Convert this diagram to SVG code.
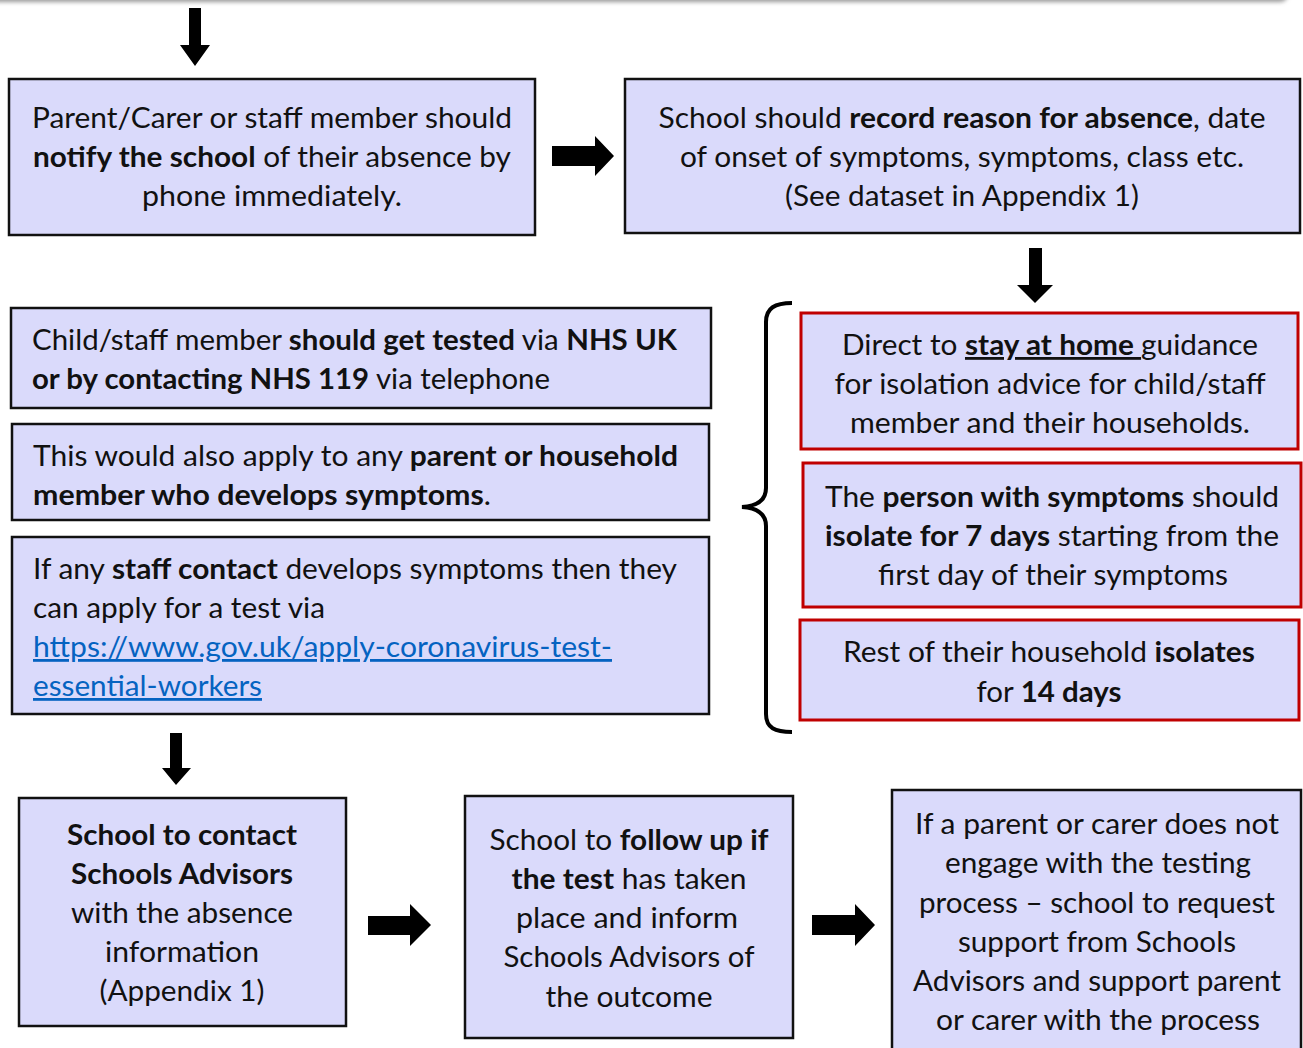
<svg xmlns="http://www.w3.org/2000/svg" width="1303" height="1048" viewBox="0 0 1303 1048">
<defs>
<filter id="blur" x="-5%" y="-100%" width="110%" height="300%"><feGaussianBlur stdDeviation="2"/></filter>
<style>
.box{fill:#dadafb;stroke:#111;stroke-width:2.5}
.red{fill:#dadafb;stroke:#c00000;stroke-width:3}
.t{font-family:Lato,"Open Sans","Liberation Sans",sans-serif;font-size:28px;fill:#111}
.c{text-anchor:middle}
.b{font-weight:bold}
.u{text-decoration:underline}
.link{fill:#0563c1;text-decoration:underline}
.arr{fill:#000}
.brace{fill:none;stroke:#000;stroke-width:4}
</style>
</defs>
<rect x="-20" y="-20" width="1308" height="22" rx="8" fill="#9a9a9a" filter="url(#blur)"/>
<rect x="-20" y="-20" width="1306" height="20" rx="6" fill="#fff"/>

<g id="connectors">
<polygon class="arr" points="189,8 201,8 201,45 210,45 195,66 180,45 189,45"/>
<polygon class="arr" points="552,146 595,146 595,136 614,156 595,176 595,166 552,166"/>
<polygon class="arr" points="1029,248 1042,248 1042,285 1053,285 1035,303 1017,285 1029,285"/>
<polygon class="arr" points="170,733 182,733 182,768 191,768 176,785 162,768 170,768"/>
<polygon class="arr" points="368,916 410,916 410,904 431,925 410,946 410,935 368,935"/>
<polygon class="arr" points="812,915 855,915 855,904 875,925 855,946 855,935 812,935"/>
<path class="brace" d="M792,303 C775,303 766,308 766,322 L766,488 C766,500 758,506 742,507 C758,508 766,514 766,526 L766,714 C766,728 775,732 792,732"/>
</g>

<g id="n1">
<rect class="box" x="9" y="79" width="526" height="156"/>
<text class="t c" x="272" y="128" textLength="480" lengthAdjust="spacingAndGlyphs">Parent/Carer or staff member should</text>
<text class="t c" x="272" y="167" textLength="478" lengthAdjust="spacingAndGlyphs"><tspan class="b">notify the school</tspan> of their absence by</text>
<text class="t c" x="272" y="206" textLength="260" lengthAdjust="spacingAndGlyphs">phone immediately.</text>
</g>

<g id="n2">
<rect class="box" x="625" y="79" width="675" height="154"/>
<text class="t c" x="962" y="128" textLength="607" lengthAdjust="spacingAndGlyphs">School should <tspan class="b">record reason for absence</tspan>, date</text>
<text class="t c" x="962" y="167" textLength="564" lengthAdjust="spacingAndGlyphs">of onset of symptoms, symptoms, class etc.</text>
<text class="t c" x="962" y="206" textLength="354" lengthAdjust="spacingAndGlyphs">(See dataset in Appendix 1)</text>
</g>

<g id="n3">
<rect class="box" x="11" y="308" width="700" height="100"/>
<text class="t" x="32" y="350" textLength="645" lengthAdjust="spacingAndGlyphs">Child/staff member <tspan class="b">should get tested</tspan> via <tspan class="b">NHS UK</tspan></text>
<text class="t" x="32" y="389" textLength="518" lengthAdjust="spacingAndGlyphs"><tspan class="b">or by contacting NHS 119</tspan> via telephone</text>
</g>

<g id="n4">
<rect class="box" x="12" y="424" width="697" height="96"/>
<text class="t" x="33" y="466" textLength="645" lengthAdjust="spacingAndGlyphs">This would also apply to any <tspan class="b">parent or household</tspan></text>
<text class="t" x="33" y="505" textLength="458" lengthAdjust="spacingAndGlyphs"><tspan class="b">member who develops symptoms</tspan>.</text>
</g>

<g id="n5">
<rect class="box" x="12" y="537" width="697" height="177"/>
<text class="t" x="33" y="579" textLength="644" lengthAdjust="spacingAndGlyphs">If any <tspan class="b">staff contact</tspan> develops symptoms then they</text>
<text class="t" x="33" y="618" textLength="292" lengthAdjust="spacingAndGlyphs">can apply for a test via</text>
<text class="t link" x="33" y="657" textLength="579" lengthAdjust="spacingAndGlyphs">https://www.gov.uk/apply-coronavirus-test-</text>
<text class="t link" x="33" y="696" textLength="229" lengthAdjust="spacingAndGlyphs">essential-workers</text>
</g>

<g id="n6">
<rect class="red" x="801" y="313" width="497" height="136"/>
<text class="t c" x="1050" y="355" textLength="416" lengthAdjust="spacingAndGlyphs">Direct to <tspan class="b u">stay at home </tspan>guidance</text>
<text class="t c" x="1050" y="394" textLength="431" lengthAdjust="spacingAndGlyphs">for isolation advice for child/staff</text>
<text class="t c" x="1050" y="433" textLength="400" lengthAdjust="spacingAndGlyphs">member and their households.</text>
</g>

<g id="n7">
<rect class="red" x="803" y="463" width="498" height="144"/>
<text class="t c" x="1052" y="507" textLength="454" lengthAdjust="spacingAndGlyphs">The <tspan class="b">person with symptoms</tspan> should</text>
<text class="t c" x="1052" y="546" textLength="454" lengthAdjust="spacingAndGlyphs"><tspan class="b">isolate for 7 days</tspan> starting from the</text>
<text class="t c" x="1053" y="585" textLength="350" lengthAdjust="spacingAndGlyphs">first day of their symptoms</text>
</g>

<g id="n8">
<rect class="red" x="800" y="620" width="499" height="100"/>
<text class="t c" x="1049" y="662" textLength="412" lengthAdjust="spacingAndGlyphs">Rest of their household <tspan class="b">isolates</tspan></text>
<text class="t c" x="1049" y="702" textLength="145" lengthAdjust="spacingAndGlyphs">for <tspan class="b">14 days</tspan></text>
</g>

<g id="n9">
<rect class="box" x="19" y="798" width="327" height="228"/>
<text class="t c b" x="182" y="845" textLength="230" lengthAdjust="spacingAndGlyphs">School to contact</text>
<text class="t c b" x="182" y="884" textLength="222" lengthAdjust="spacingAndGlyphs">Schools Advisors</text>
<text class="t c" x="182" y="923" textLength="222" lengthAdjust="spacingAndGlyphs">with the absence</text>
<text class="t c" x="182" y="962" textLength="154" lengthAdjust="spacingAndGlyphs">information</text>
<text class="t c" x="182" y="1001" textLength="165" lengthAdjust="spacingAndGlyphs">(Appendix 1)</text>
</g>

<g id="n10">
<rect class="box" x="465" y="796" width="328" height="242"/>
<text class="t c" x="629" y="850" textLength="279" lengthAdjust="spacingAndGlyphs">School to <tspan class="b">follow up if</tspan></text>
<text class="t c" x="629" y="889" textLength="235" lengthAdjust="spacingAndGlyphs"><tspan class="b">the test</tspan> has taken</text>
<text class="t c" x="627" y="928" textLength="222" lengthAdjust="spacingAndGlyphs">place and inform</text>
<text class="t c" x="629" y="967" textLength="251" lengthAdjust="spacingAndGlyphs">Schools Advisors of</text>
<text class="t c" x="629" y="1007" textLength="167" lengthAdjust="spacingAndGlyphs">the outcome</text>
</g>

<g id="n11">
<rect class="box" x="892" y="790" width="409" height="270"/>
<text class="t c" x="1097" y="834" textLength="364" lengthAdjust="spacingAndGlyphs">If a parent or carer does not</text>
<text class="t c" x="1098" y="873" textLength="306" lengthAdjust="spacingAndGlyphs">engage with the testing</text>
<text class="t c" x="1097" y="913" textLength="356" lengthAdjust="spacingAndGlyphs">process – school to request</text>
<text class="t c" x="1097" y="952" textLength="278" lengthAdjust="spacingAndGlyphs">support from Schools</text>
<text class="t c" x="1097" y="991" textLength="368" lengthAdjust="spacingAndGlyphs">Advisors and support parent</text>
<text class="t c" x="1098" y="1030" textLength="324" lengthAdjust="spacingAndGlyphs">or carer with the process</text>
</g>
</svg>
